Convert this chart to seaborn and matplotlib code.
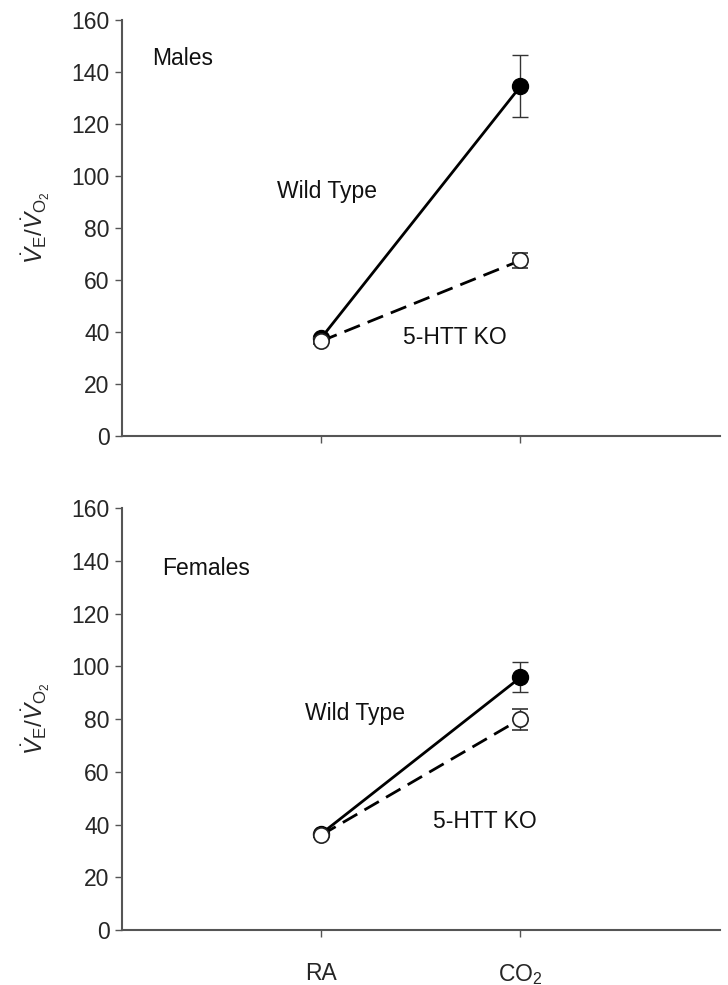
import numpy as np
import pandas as pd
import matplotlib
matplotlib.use("Agg")
import matplotlib.pyplot as plt
import seaborn as sns

conditions = ["RA", "CO$_2$"]
male_wt = [37.7, 134.5]
male_wt_err = [1.0, 12.0]
male_ko = [36.5, 67.5]
male_ko_err = [1.0, 3.0]
female_wt = [36.5, 95.8]
female_wt_err = [0.8, 5.7]
female_ko = [36.0, 80.0]
female_ko_err = [0.8, 4.0]
yticks = [0, 20, 40, 60, 80, 100, 120, 140, 160]

sns.set_theme(style="ticks")
plt.rcParams['font.family'] = ['Liberation Sans', 'DejaVu Sans']
plt.rcParams['mathtext.fontset'] = 'custom'
plt.rcParams['mathtext.rm'] = 'Liberation Sans'
plt.rcParams['mathtext.it'] = 'Liberation Sans:italic'
plt.rcParams['mathtext.bf'] = 'Liberation Sans:bold'

fig = plt.figure(figsize=(7.28, 9.85), dpi=100)
ax1 = fig.add_axes([0.1676, 0.5574, 0.821, 0.4223])
ax2 = fig.add_axes([0.1676, 0.0558, 0.821, 0.4284])

xpos = [1, 2]
FS = 16.5

def draw(ax, wt, wt_err, ko, ko_err, title, title_xy, wt_xy, ko_xy, show_labels):
    df = pd.DataFrame({
        "x": xpos + xpos,
        "y": wt + ko,
        "group": ["Wild Type"] * 2 + ["5-HTT KO"] * 2,
    })
    sns.lineplot(data=df, x="x", y="y", style="group",
                 dashes={"Wild Type": "", "5-HTT KO": (6, 3)},
                 color="black", linewidth=2.0, legend=False, ax=ax, zorder=2)
    ax.errorbar(xpos, wt, yerr=wt_err, fmt="o", color="black", mfc="black",
                mec="black", ms=11.5, capsize=6, elinewidth=1.0, capthick=1.0,
                ecolor="#333333", zorder=3)
    ax.errorbar(xpos, ko, yerr=ko_err, fmt="o", color="black", mfc="white",
                mec="#222222", mew=1.2, ms=11, capsize=6, elinewidth=1.0,
                capthick=1.0, ecolor="#333333", zorder=4)
    ax.text(title_xy[0], title_xy[1], title, fontsize=FS, va="center", ha="left", color="#111111")
    ax.text(wt_xy[0], wt_xy[1], "Wild Type", fontsize=FS, va="center", ha="left", color="#111111")
    ax.text(ko_xy[0], ko_xy[1], "5-HTT KO", fontsize=FS, va="center", ha="left", color="#111111")
    ax.set_xlim(0, 3)
    ax.set_ylim(0, 160)
    ax.set_yticks(yticks)
    ax.set_xticks(xpos)
    if show_labels:
        ax.set_xticklabels(conditions, fontsize=FS)
    else:
        ax.set_xticklabels([])
    ax.tick_params(axis="y", labelsize=FS, length=5, width=1.0, color="#555555", pad=4)
    ax.tick_params(axis="x", length=5, width=1.0, color="#555555", pad=18)
    ax.set_xlabel("")
    ax.set_ylabel(r"$\dot{V}_{\mathrm{E}}/\dot{V}_{\mathrm{O_2}}$", fontsize=17.5, labelpad=14)
    for side in ["top", "right"]:
        ax.spines[side].set_visible(False)
    for side in ["left", "bottom"]:
        ax.spines[side].set_color("#555555")
        ax.spines[side].set_linewidth(1.5)

draw(ax1, male_wt, male_wt_err, male_ko, male_ko_err, "Males",
     (0.15, 145), (0.78, 94), (1.41, 38), False)
draw(ax2, female_wt, female_wt_err, female_ko, female_ko_err, "Females",
     (0.2, 137), (0.92, 82), (1.56, 41), True)

fig.savefig("out.png", dpi=100, facecolor="white")
